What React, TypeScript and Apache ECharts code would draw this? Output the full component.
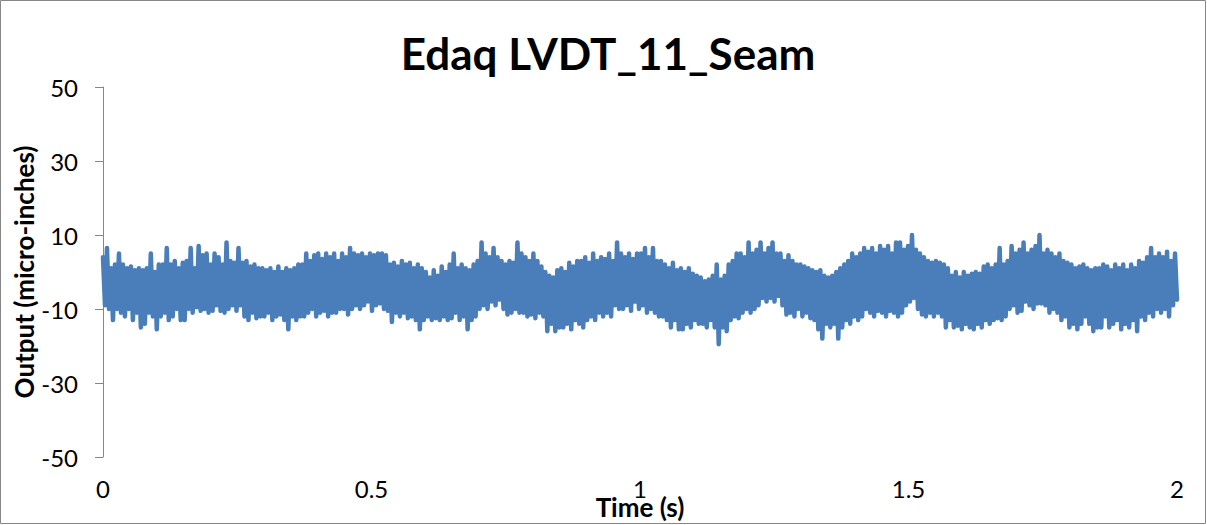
import React, { useEffect, useRef } from "react";
import * as echarts from "echarts";

const TITLE = "Edaq LVDT_11_Seam";
const X_NAME = "Time (s)";
const Y_NAME = "Output (micro-inches)";
const X_TICKS = [0, 0.5, 1, 1.5, 2];
const Y_TICKS = [-50, -30, -10, 10, 30, 50];
const DURATION_S = 2;

const OUTPUT = [
  4, -9, 6.5, -10, 1, -13, 2, -10, 5, -11,
  2, -12, 1, -10, 1.5, -13, 0.5, -11, 1, -15,
  0.5, -14, 1, -11, 5, -12, 0, -15.5, 2, -12,
  2, -11, 6.5, -13, 2, -12, 3, -10, 1, -13,
  2.5, -13, 3, -10, 6.5, -11, 1, -9.5, 7, -10.5,
  4.5, -10, 5, -11, 2, -10.5, 5, -9, 4, -10.5,
  2, -11, 8, -10, 3, -9, 2.5, -10.5, 6.5, -9,
  2.5, -12, 3, -13, 1.5, -11, 2, -12.5, 1, -12,
  1, -12, 0.5, -11, 1, -13, 0, -12, 1.5, -11.5,
  0, -13, 1, -15.5, 0.5, -12, 1, -13, 2, -12,
  2, -12, 5, -11, 3, -10, 4.5, -12, 5, -11,
  3.5, -10.5, 5, -12, 4, -11, 5, -11, 3, -10,
  5, -10, 4, -11.5, 6.5, -10, 5, -9, 4.5, -10,
  5, -9, 4, -8, 5, -10.5, 4.5, -9, 5, -8.5,
  5, -10, 4.5, -10.5, 2, -13.5, 2.5, -11, 1.5, -12,
  3, -11, 2, -12.5, 2.5, -12, 1, -13, 2, -15.5,
  1, -13, 0, -12, -1.5, -13, 0.5, -12.5, -1, -13,
  1.5, -12, 0, -13, 2, -12.5, 5, -11, 1, -13,
  2, -12, 1, -15.5, 0.5, -13, 2, -12, 3, -10,
  8, -9, 5, -10, 4, -8, 6.5, -9, 4, -7.5,
  3, -10, 2, -11.5, 3, -11, 2.5, -10, 8, -11,
  5, -11, 4, -12, 3, -11.5, 5, -12.5, 3, -11,
  1.5, -12, 0, -16, -1, -14, -1.5, -16, 0.5, -15,
  1, -15, 0, -14, 2.5, -15.5, 1.5, -13, 3, -14,
  3, -15, 4, -13, 2.5, -12, 5, -13, 3, -11,
  4, -12, 3.5, -11, 5, -12, 3, -9, 8, -10,
  5, -10, 4, -9, 5, -10.5, 3.5, -8, 5, -10,
  5, -9, 6.5, -11, 4, -10, 6.5, -11, 3, -12,
  3, -12, 2, -13, 1, -15, 2.5, -13, 0.5, -15.5,
  1, -15.5, 0, -14, 1, -15, -0.5, -13, -1, -14,
  -1.5, -14, -2.5, -15, -2, -13, -1, -15, 2, -19.5,
  -2, -15, -1, -16, 2, -13, 3, -12, 5, -12.5,
  5, -11, 4, -10, 8, -11, 5, -10, 6, -9,
  8, -7, 5, -8, 6.5, -7, 8, -8, 5, -6.5,
  5, -9, 3, -11.5, 4.5, -11, 3, -12, 2, -10,
  2, -12, 1.5, -11, 1, -12.5, 0.5, -13, 0, -15.5,
  0.5, -18, -1, -14, -1.5, -15, -1, -14, 0, -18,
  1, -15, 2, -13, 3, -14, 5, -12, 4, -13,
  5, -12, 6.5, -10, 5.5, -11, 6.5, -12, 5, -10.5,
  7, -11, 6, -12, 7, -10.5, 5, -11, 8, -12,
  8, -11, 6, -9, 7, -8, 10, -7, 6, -10,
  5, -11.5, 4, -12, 3, -11, 2.5, -12, 3, -11,
  2.5, -12, 2, -15, 1, -13, -1, -15, 0, -14.5,
  -1.5, -15.5, 0, -14, -1, -15, -0.5, -15.5, 0, -14,
  -0.5, -15, 1.5, -13, 2, -14, 1, -13, 2, -12.5,
  6.5, -13, 2, -12, 3, -10, 7, -9, 5, -11,
  6, -10.5, 8, -8, 5, -9, 6, -10, 7, -8.5,
  10, -8.5, 5, -9, 6, -11, 5, -10, 4, -11,
  5, -13, 3, -12, 2.5, -15, 2, -14, 1, -15.5,
  1.5, -14, 2, -12, 1, -14, 0.5, -16, 1, -15,
  1, -15, 2, -12, 1.5, -15, 0.5, -14, 2, -13,
  1, -15.5, 2, -14, 0.5, -15, 2, -13, 1, -16,
  3, -12, 2.5, -13, 4, -11, 6.5, -12, 4, -10,
  5, -11, 4, -10, 5.5, -12, 3, -9, 5, -7.5,
];

const FONT = "Lato";

export default function App() {
  const ref = useRef<HTMLDivElement>(null);
  useEffect(() => {
    if (!ref.current) return;
    const chart = echarts.init(ref.current, undefined, { renderer: "svg" });
    const step = DURATION_S / (OUTPUT.length - 1);
    const data = OUTPUT.map((v, i) => [i * step, v]);
    chart.setOption({
      animation: false,
      backgroundColor: "#ffffff",
      title: {
        text: TITLE,
        left: 603,
        textAlign: "center",
        top: 26,
        textStyle: { fontFamily: FONT, fontWeight: "bold", fontSize: 44, color: "#000" },
      },
      graphic: [
        {
          type: "rect",
          shape: { x: 0.5, y: 0.5, width: 1205, height: 523 },
          style: { fill: "none", stroke: "#868686", lineWidth: 1 },
          silent: true,
        },
      ],
      grid: { left: 103, right: 30, top: 87, bottom: 68, outerBoundsMode: "none", containLabel: false },
      xAxis: {
        type: "value",
        min: 0,
        max: DURATION_S,
        name: X_NAME,
        nameLocation: "middle",
        nameGap: 37,
        nameMoveOverlap: false,
        nameTextStyle: { fontFamily: FONT, fontWeight: "bold", fontSize: 26, color: "#000" },
        axisLine: { show: false },
        axisTick: { show: false },
        splitLine: { show: false },
        axisLabel: {
          customValues: X_TICKS,
          margin: 19,
          fontFamily: FONT,
          fontSize: 24,
          color: "#000",
        },
      },
      yAxis: {
        type: "value",
        min: -50,
        max: 50,
        name: Y_NAME,
        nameLocation: "middle",
        nameGap: 66,
        nameMoveOverlap: false,
        nameRotate: 90,
        nameTextStyle: { fontFamily: FONT, fontWeight: "bold", fontSize: 26, color: "#000" },
        axisLine: { show: true, lineStyle: { color: "#868686", width: 1 } },
        axisTick: { show: true, customValues: Y_TICKS, length: 8, lineStyle: { color: "#868686" } },
        splitLine: { show: false },
        axisLabel: {
          customValues: Y_TICKS,
          margin: 25,
          fontFamily: FONT,
          fontSize: 24,
          color: "#000",
        },
      },
      series: [
        {
          type: "line",
          data,
          showSymbol: false,
          symbol: "none",
          lineStyle: { color: "#4A7EBB", width: 4.5, cap: "round", join: "round" },
          itemStyle: { color: "#4A7EBB" },
        },
      ],
    });
    return () => chart.dispose();
  }, []);
  return (
    <div
      ref={ref}
      style={{ position: "fixed", left: 0, top: 0, width: 1207, height: 525 }}
    />
  );
}
